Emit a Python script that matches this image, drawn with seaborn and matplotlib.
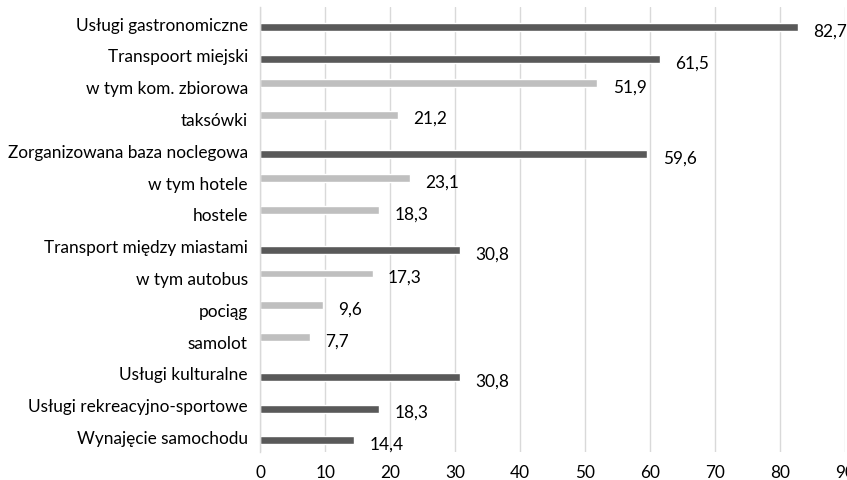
import matplotlib.pyplot as plt
import pandas as pd
import seaborn as sns

categories = [
    "Usługi gastronomiczne",
    "Transpoort miejski",
    "w tym kom. zbiorowa",
    "taksówki",
    "Zorganizowana baza noclegowa",
    "w tym hotele",
    "hostele",
    "Transport między miastami",
    "w tym autobus",
    "pociąg",
    "samolot",
    "Usługi kulturalne",
    "Usługi rekreacyjno-sportowe",
    "Wynajęcie samochodu",
]
values = [82.7, 61.5, 51.9, 21.2, 59.6, 23.1, 18.3, 30.8, 17.3, 9.6, 7.7, 30.8, 18.3, 14.4]
groups = ["main", "main", "sub", "sub", "main", "sub", "sub",
          "main", "sub", "sub", "sub", "main", "main", "main"]
x_ticks = [0, 10, 20, 30, 40, 50, 60, 70, 80, 90]

df = pd.DataFrame({"category": categories, "value": values, "group": groups})

sns.set_theme(style="white")
plt.rcParams["font.family"] = ["Lato", "DejaVu Sans"]
fs = 12.4

fig = plt.figure(figsize=(8.47, 4.81), dpi=100)
ax = fig.add_axes([0.3073, 0.0576, 0.6903, 0.9251])

sns.barplot(
    data=df,
    y="category",
    x="value",
    hue="group",
    hue_order=["sub", "main"],
    palette={"main": "#595959", "sub": "#bfbfbf"},
    orient="h",
    dodge=True,
    width=0.5,
    gap=0,
    legend=False,
    saturation=1,
    ax=ax,
)

for container in ax.containers:
    texts = ax.bar_label(
        container,
        fmt=lambda v: f"{v:.1f}".replace(".", ","),
        padding=11,
        fontsize=fs,
        color="#000000",
    )
    # etykiety lekko ponizej srodka slupka, jak w oryginale
    for t in texts:
        t.xyann = (11, -2.5)

ax.set_xlim(0, 90)
ax.set_ylim(13.5, -0.5)
ax.set_xticks(x_ticks)
ax.xaxis.grid(True, color="#d9d9d9", linewidth=1)
ax.set_axisbelow(True)
ax.set_xlabel("")
ax.set_ylabel("")
for side in ["top", "right", "bottom"]:
    ax.spines[side].set_visible(False)
ax.spines["left"].set_color("#d9d9d9")
ax.spines["left"].set_linewidth(1)
ax.tick_params(axis="x", length=0, pad=8.5, labelsize=fs, labelcolor="#000000")
ax.tick_params(axis="y", length=0, pad=9, labelsize=fs, labelcolor="#000000")

plt.savefig("out.png", dpi=100)
plt.close()
